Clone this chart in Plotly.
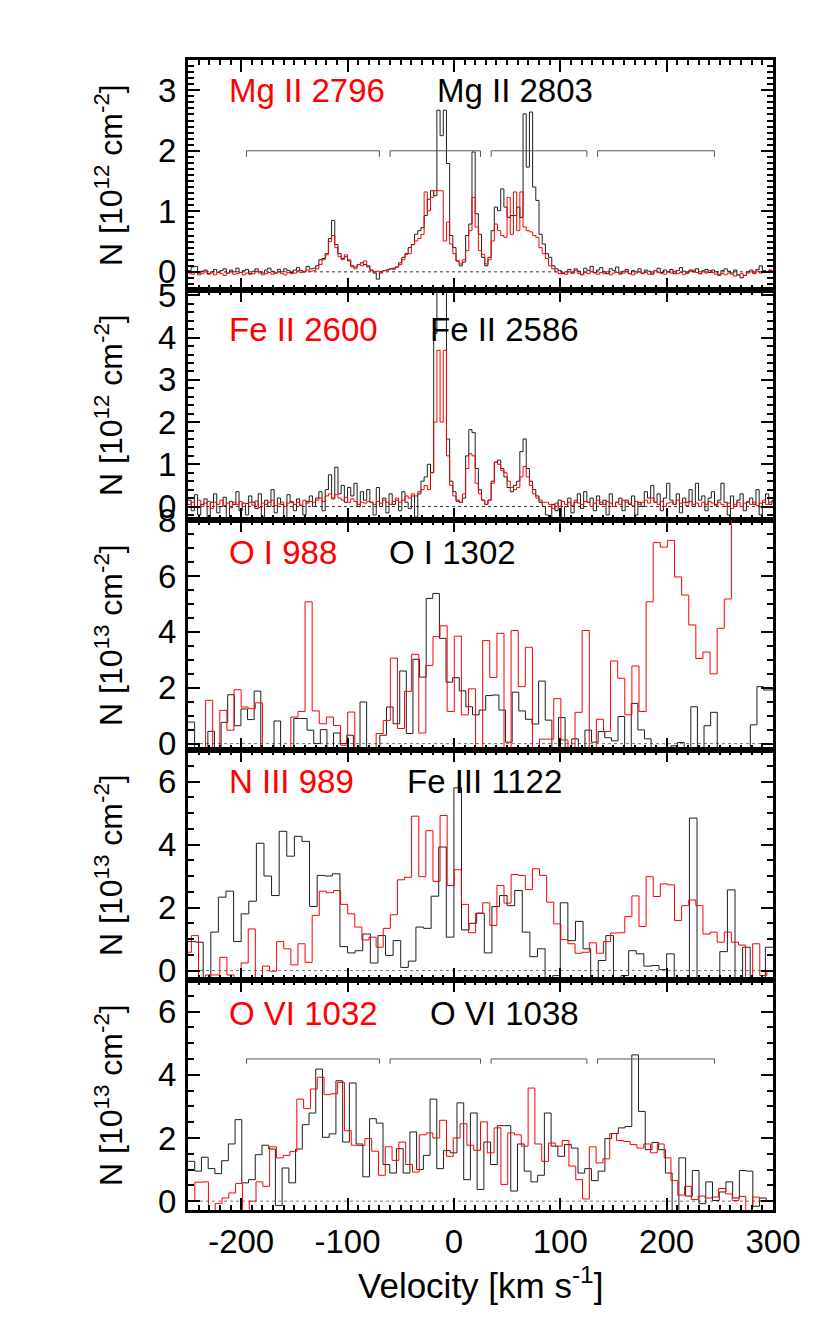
import plotly.graph_objects as go

FONT = "Liberation Sans, Arial, Helvetica, sans-serif"

# ---------------- Panel 1: Mg II (column density, 10^12 cm^-2), 3 km/s bins from -250
mg_start = -250.0
mg_width = 3.0
mg2803 = [0.02, 0.08, 0.09, -0.02, 0.01, 0.03, -0.03, 0.0, 0.04, -0.01,
          0.02, 0.05, -0.02, 0.03, 0.0, 0.06, -0.01, 0.02, 0.04, -0.03,
          0.01, 0.05, 0.0, -0.02, 0.03, 0.06, 0.01, -0.02, 0.04, 0.0,
          0.05, 0.02, -0.01, 0.03, 0.07, 0.02, 0.0, 0.09, 0.05, 0.06,
          0.1, 0.2, 0.22, 0.3, 0.55, 0.85, 0.45, 0.3, 0.22, 0.25,
          0.18, 0.1, 0.08, 0.12, 0.15, 0.12, 0.1,
          0.03, -0.02, -0.12, 0.0, 0.02, 0.03, 0.05, 0.06, 0.08, 0.15,
          0.24, 0.3, 0.4, 0.45, 0.62, 0.68, 0.73, 0.93, 1.2, 1.34,
          1.26,
          2.67, 2.25, 2.67, 1.79, 0.6, 0.4, 0.18, 0.1, 0.16, 0.6,
          0.79, 1.98, 0.96, 0.62, 0.24, 0.1, 0.24, 0.68, 1.07, 1.01,
          1.37, 1.07, 0.9, 0.93, 0.93, 1.07, 0.9, 2.61, 1.73, 2.64,
          1.4, 1.18, 0.62, 0.46, 0.3, 0.24, 0.1, 0.05,
          0.02, -0.03, 0.0, 0.04, -0.02, 0.05, 0.01, -0.04, 0.06, 0.02,
          0.09, -0.01, 0.03, 0.07, 0.0, -0.03, 0.05, 0.02, 0.08, -0.02,
          0.01, 0.04, -0.03, 0.02, 0.0, 0.05, -0.02, 0.03, 0.01, -0.04,
          0.02, 0.06, -0.01, 0.03, 0.0, 0.04, -0.03, 0.02, 0.07, 0.01,
          -0.02, 0.03, 0.0, 0.05, -0.03, 0.02, 0.04, -0.01, 0.03, 0.0,
          -0.04, 0.02, 0.05, 0.01, -0.02, 0.03, -0.05, -0.1, -0.06, 0.0,
          0.03, -0.02, 0.04, 0.1, 0.02, -0.01, 0.03, 0.0]
mg2796 = [-0.02, -0.04, -0.01, -0.05, -0.03, 0.0, -0.04, -0.02, -0.05, -0.01,
          -0.03, -0.06, -0.02, 0.0, -0.04, -0.03, -0.01, -0.05, -0.02, -0.04,
          -0.03, 0.01, -0.02, -0.05, -0.03, -0.01, -0.04, -0.02, 0.0, -0.03,
          -0.05, -0.01, -0.03, -0.02, 0.02, -0.01, 0.0, 0.03, 0.01, 0.02,
          0.05, 0.12, 0.2, 0.28, 0.5, 0.6, 0.4, 0.25, 0.2, 0.28,
          0.2, 0.08, 0.05, 0.12, 0.1, 0.18, 0.08,
          0.02, 0.0, 0.01, -0.02, 0.02, 0.03, 0.05, 0.04, 0.08, 0.12,
          0.2, 0.29, 0.3, 0.45, 0.51, 0.55, 0.62, 1.32, 1.01, 1.23,
          1.34,
          1.34, 1.34, 0.51, 0.82, 0.46, 0.3, 0.18, 0.13, 0.2, 0.35,
          0.68, 1.23, 0.74, 0.35, 0.29, 0.13, 0.2, 0.51, 0.79, 0.68,
          0.6, 0.57, 1.23, 0.62, 1.32, 0.68, 1.32, 0.74, 0.68, 0.66,
          0.6, 0.57, 0.4, 0.3, 0.22, 0.1, 0.05, 0.0,
          -0.03, -0.01, -0.04, 0.0, -0.02, 0.02, -0.03, -0.05, -0.01, -0.03,
          0.01, -0.02, -0.04, -0.01, -0.03, 0.0, -0.05, -0.02, -0.01, -0.04,
          -0.02, 0.01, -0.03, -0.05, -0.02, 0.0, -0.03, -0.01, -0.04, -0.02,
          0.02, -0.01, -0.03, -0.04, 0.0, -0.02, 0.01, -0.03, -0.01, -0.04,
          -0.02, 0.01, 0.03, -0.01, -0.03, 0.0, -0.02, 0.02, -0.01, -0.04,
          -0.06, -0.03, -0.05, -0.02, -0.04, -0.07, -0.05, -0.03, -0.06, -0.02,
          0.0, -0.03, 0.01, -0.02, 0.0, -0.01, 0.02, -0.01]

# ---------------- Panel 2: Fe II (10^12 cm^-2), 3 km/s bins from -250
fe_start = -250.0
fe_width = 3.0
fe2586 = [0.15, -0.1, 0.28, -0.2, 0.05, 0.18, -0.25, 0.1, 0.3, -0.15,
          0.0, 0.22, -0.3, 0.12, 0.05, 0.35, -0.1, 0.08, -0.2, 0.25,
          0.1, -0.05, 0.3, -0.25, 0.15, 0.0, 0.4, -0.15, 0.2, 0.05,
          -0.3, 0.28, 0.1, -0.1, 0.18, 0.02, -0.2, 0.12, 0.25, 0.0,
          0.2, 0.35, -0.1, 0.4, 0.75, 0.2, 0.93, 0.3, 0.5, 0.1,
          0.45, 0.25, 0.55, 0.0, 0.35, 0.15, 0.4,
          0.1, -0.2, 0.45, 0.0, 0.2, -0.15, 0.3, 0.05, 0.15, -0.1,
          0.35, 0.1, -0.05, 0.25, -0.25, 0.3, 0.6,
          0.7, 1.0, 0.8, 4.1, 5.5, 5.5, 5.5, 1.6, 0.6, 0.35,
          0.15, 0.1, 0.2, 1.2, 1.82, 1.75, 0.9, 0.4, 0.15, 0.05,
          0.15, 0.6, 1.05, 1.1, 0.9, 0.7, 0.45, 0.35, 0.5, 0.6,
          1.3, 1.6, 0.9, 0.6, 0.4, 0.25, 0.1, 0.0,
          -0.2, -0.3, 0.05, -0.1, 0.15, -0.3, 0.0, 0.2, -0.15, 0.1,
          0.3, -0.05, 0.35, 0.1, 0.2, -0.1, 0.25, 0.05, 0.15, -0.2,
          0.3, 0.0, 0.1, 0.2, -0.1, 0.15, 0.05, 0.25, -0.2, 0.1,
          0.0, 0.35, 0.2, 0.5, 0.1, 0.3, -0.1, 0.2, 0.55, 0.15,
          0.05, 0.3, -0.15, 0.2, 0.1, 0.4, 0.0, 0.55, 0.15, 0.25,
          -0.1, 0.2, 0.35, 0.05, 0.15, 0.55, 0.1, -0.2, 0.25, 0.0,
          0.15, 0.3, -0.1, 0.1, 0.2, 0.05, 0.4, -0.2, 0.1, 0.3,
          0.05, 0.15]
fe2600 = [0.05, 0.1, -0.02, 0.15, 0.0, 0.08, 0.12, -0.05, 0.1, 0.05,
          0.15, 0.02, 0.08, -0.03, 0.1, 0.05, 0.12, 0.0, 0.07, 0.1,
          0.03, 0.13, -0.02, 0.08, 0.05, 0.1, 0.15, 0.02, 0.06, 0.1,
          0.0, 0.08, 0.12, 0.05, 0.1, 0.03, 0.15, 0.08, 0.12, 0.1,
          0.15, 0.2, 0.12, 0.25, 0.3, 0.18, 0.28, 0.2, 0.15, 0.22,
          0.1, 0.18, 0.12, 0.05, 0.1, 0.08, 0.12,
          0.1, 0.05, 0.12, 0.08, 0.15, 0.1, 0.05, 0.12, 0.2, 0.1,
          0.15, 0.25, 0.2, 0.3, 0.25, 0.35, 0.4,
          0.5, 0.4, 0.8, 2.0, 3.7, 2.0, 3.7, 1.2, 0.5, 0.25,
          0.12, 0.1, 0.3, 0.9, 1.25, 1.2, 0.55, 0.3, 0.15, 0.05,
          0.15, 0.55, 1.05, 1.0, 0.85, 0.8, 0.6, 0.45, 0.4, 0.45,
          0.7, 0.95, 0.7, 0.5, 0.3, 0.2, 0.15, 0.1,
          0.1, 0.05, -0.05, 0.08, 0.0, 0.12, 0.05, 0.1, 0.02, 0.15,
          0.08, 0.05, 0.12, 0.1, 0.0, 0.08, 0.15, 0.1, 0.05, 0.12,
          0.08, 0.0, 0.1, 0.05, 0.15, 0.1, 0.08, 0.02, 0.12, 0.05,
          0.1, 0.15, 0.08, 0.2, 0.1, 0.05, 0.12, 0.0, 0.08, 0.1,
          0.05, 0.15, 0.08, 0.1, 0.02, 0.12, 0.05, 0.08, 0.0, 0.1,
          0.05, 0.12, 0.08, 0.02, 0.1, 0.05, 0.0, 0.08, -0.05, 0.05,
          0.1, 0.0, 0.08, 0.12, 0.05, 0.1, 0.02, 0.08, 0.15, 0.05,
          0.1, 0.12]

# ---------------- Panel 3: O I (10^13 cm^-2)
oi988_start = -253.5
oi988_width = 6.68
oi988 = [-0.5, -0.5, -0.5, 1.55, -0.5, 1.19, 0.48, 1.93, 1.31, 1.25,
         1.46, -0.5, -0.5, -0.5, -0.5, 0.95, 1.15, 5.08, 1.17, 0.71,
         0.95, 0.65, -0.06, 1.13, -0.5, -0.5, -0.5, 0.36, 0.83, 3.06,
         0.54, 1.87, 3.2, 0.38, 2.8, 3.83, 4.22, 1.15, 3.85, 1.03,
         1.96, -0.5, 3.69, 2.37, 3.95, -0.5, 4.05, 2.04, 3.45, -0.5,
         0.16, 0.16, 1.61, 0.13, -0.5, 1.12, 4.05, -0.5, 0.87, 0.43,
         2.96, 2.34, 1.03, 2.78, 1.15, 5.08, 7.2, 7.04, 7.28, 5.97,
         5.32, 4.25, 3.05, 3.28, 2.5, 4.13, 5.18, 9.0, 9.0, 9.0,
         9.0, 9.0, 9.0]
oi1302_start = -250.0
oi1302_width = 6.22
oi1302 = [0.77, -0.5, -0.5, 0.44, -0.5, 0.76, 1.75, 0.64, 1.24, 0.86,
          1.88, -0.5, -0.5, 0.81, -0.5, -0.5, 0.9, 0.9, 0.48, 0.0,
          0.5, -0.5, 0.38, 0.0, 0.3, -0.5, 1.49, -0.5, -0.5, 0.3,
          1.31, 0.71, 2.6, 0.36, 3.02, 2.38, 5.2, 5.38, 3.77, 2.2,
          2.36, 1.89, 1.32, 1.03, 1.2, 1.72, 1.74, 1.2, 0.05, 1.84,
          1.17, 0.87, 0.7, 2.24, 0.84, -0.5, 0.93, -0.5, 0.17, -0.5,
          0.48, 0.05, 0.43, 0.21, 0.1, 0.97, -0.17, 1.44, 0.49, 0.17,
          -0.5, -0.5, -0.5, -0.08, 0.04, -0.5, 1.32, -0.5, 0.64, 1.12,
          -0.5, -0.5, -0.5, -0.5, -0.5, 0.67, 2.04, 1.92, 1.92]

# ---------------- Panel 4: N III 989 and Fe III 1122 (10^13 cm^-2)
niii989_start = -253.5
niii989_width = 6.68
niii989 = [0.58, 1.11, -0.5, -0.14, -0.14, 0.42, -0.14, -0.5, 0.24, 1.32,
           -0.5, 0.14, -0.02, 0.92, 0.69, 0.18, 0.85, 0.26, 1.75, 2.52,
           2.47, 2.54, 2.1, 1.8, 1.38, 0.97, 1.06, 0.74, 1.34, 1.77,
           2.88, 2.96, 4.9, 2.98, 4.44, 2.83, 4.92, 2.7, 3.2, 2.1,
           1.2, 1.82, 2.15, 1.43, 2.7, 2.14, 3.05, 3.02, 2.57, 3.23,
           3.02, 2.17, 1.48, 0.98, 0.85, 0.55, 0.58, 0.88, 0.55, 0.92,
           1.19, 1.2, 1.71, 2.37, 1.4, 2.98, 2.35, 2.75, 2.72, 1.59,
           2.06, 2.24, 2.06, 1.16, 1.22, 0.9, 1.22, 0.9, 0.81, -0.5,
           0.85, -0.16, 0.0]
feiii1122_start = -250.0
feiii1122_width = 550.0 / 77
feiii1122 = [0.92, 0.9, -0.5, 1.22, 2.33, 2.52, 0.92, 1.8, 2.2, 4.04,
             3.0, 2.38, 4.42, 3.63, 4.26, 4.1, 2.03, 3.02, 3.0, 3.07,
             0.76, 0.56, 0.63, 1.16, 0.24, 1.11, 0.48, 0.95, 0.1, 0.3,
             1.38, 1.34, 2.36, 3.92, 1.06, 5.8, 1.29, 1.5, 1.82, 0.56,
             2.03, 2.38, 2.06, 2.54, 1.22, 0.44, 0.69, -0.5, -0.16, 2.15,
             0.95, 1.56, 0.69, -0.5, 0.32, 1.11, -0.5, -0.16, 0.63, 0.53,
             0.14, 0.16, 0.03, 0.53, -0.5, -0.5, 4.84, -0.5, -0.5, -0.24,
             0.6, 2.56, -0.5, 0.74, -0.5, -0.26, 0.74]

# ---------------- Panel 5: O VI (10^13 cm^-2)
ovi1032_start = -250.0
ovi1032_width = 550.0 / 86
ovi1032 = [0.02, 0.6, 0.61, -0.5, -0.07, 0.1, 0.26, 0.56, -0.5, 0.0,
           0.61, 0.47, 1.72, 1.37, 1.45, 1.57, 3.23, 2.93, 3.55, 3.92,
           3.37, 3.4, 3.76, 2.23, 1.77, 1.76, 1.98, 1.58, 0.82, 1.72,
           1.29, 1.87, 1.16, 0.92, 2.1, 2.16, 2.0, 2.56, 1.42, 2.0,
           2.45, 1.77, 1.61, 2.51, 1.53, 2.32, 0.53, 2.16, 2.1, 1.74,
           3.58, 1.81, 1.26, 1.84, 1.74, 1.92, 1.11, 0.68, 0.07, 1.72,
           1.21, 1.34, 2.14, 1.92, 1.89, 1.79, 1.68, 1.81, 1.53, 1.81,
           1.37, 0.65, 0.19, 0.47, 0.05, 0.16, 0.1, 0.13, 0.4, 0.23,
           0.02, 0.15, -0.5, 0.13, 0.02, 0.0]
ovi1038_start = -250.0
ovi1038_width = 550.0 / 87
ovi1038 = [1.26, 0.95, 1.39, 1.03, 0.87, 1.28, 1.81, 2.58, 0.58, 0.68,
           1.47, 1.77, 1.65, -0.14, 1.05, 0.58, 1.65, 2.42, 2.79, 4.18,
           2.02, 2.13, 3.81, 1.87, 3.74, 1.81, 0.77, 2.61, 2.47, 1.16,
           0.89, 1.66, 0.89, 2.19, 1.0, 1.45, 3.23, 1.03, 1.6, 1.53,
           3.11, 0.68, 2.79, 0.37, 1.87, 1.16, 2.39, 2.39, 0.32, 1.81,
           0.95, 0.61, 0.82, 2.79, 1.74, 1.42, 1.79, 1.68, 0.89, 1.03,
           0.65, 0.95, 1.98, 2.14, 2.32, 2.36, 4.63, 2.84, 1.63, 1.86,
           1.63, 0.89, -0.5, 1.37, 0.16, 0.97, -0.08, 0.61, 0.02, 0.29,
           0.61, 0.1, 0.97, 0.95, -0.16, 0.1, 0.0]

# velocity components marked by brackets (km/s)
components = [(-195, -70), (-60, 25), (35, 125), (135, 245)]

panel_labels_red = ["Mg II 2796", "Fe II 2600", "O I 988", "N III 989", "O VI 1032"]
panel_labels_black = ["Mg II 2803", "Fe II 2586", "O I 1302", "Fe III 1122", "O VI 1038"]
panel_exponents = ["12", "12", "13", "13", "13"]
x_ticks = [-200, -100, 0, 100, 200, 300]


def steps(start, width, vals):
    xs = [start + width * i for i in range(len(vals) + 1)]
    ys = list(vals) + [vals[-1]]
    return xs, ys


series = [
    ((mg_start, mg_width, mg2803), (mg_start, mg_width, mg2796)),
    ((fe_start, fe_width, fe2586), (fe_start, fe_width, fe2600)),
    ((oi1302_start, oi1302_width, oi1302), (oi988_start, oi988_width, oi988)),
    ((feiii1122_start, feiii1122_width, feiii1122), (niii989_start, niii989_width, niii989)),
    ((ovi1038_start, ovi1038_width, ovi1038), (ovi1032_start, ovi1032_width, ovi1032)),
]

yconf = [
    dict(range=[-0.3, 3.5], dtick=1, minor=0.1, label_y=3.0, black_x=-17.8, bracket=(2.0, 0.1)),
    dict(range=[-0.32, 5.13], dtick=1, minor=0.2, label_y=4.2, black_x=-24.4, bracket=None),
    dict(range=[-0.23, 8.01], dtick=2, minor=0.5, label_y=6.85, black_x=-62.9, bracket=None),
    dict(range=[-0.3, 7.0], dtick=2, minor=0.5, label_y=6.0, black_x=-46.0, bracket=None),
    dict(range=[-0.28, 7.0], dtick=2, minor=0.5, label_y=5.95, black_x=-24.4, bracket=(4.5, 0.15)),
]

fig = go.Figure()
annotations = []
shapes = []
W, H = 830, 1329
ml, mr, mt, mb = 180, 65, 52, 127
plot_w = W - ml - mr
plot_h = H - mt - mb

for i in range(5):
    n = i + 1
    xa = "x" if n == 1 else f"x{n}"
    ya = "y" if n == 1 else f"y{n}"
    (bs, bw, bv), (rs, rw, rv) = series[i]
    bx, by = steps(bs, bw, bv)
    rx, ry = steps(rs, rw, rv)
    fig.add_trace(go.Scatter(x=bx, y=by, mode="lines", line=dict(color="#1e1e1e", width=1, shape="hv"),
                             xaxis=xa, yaxis=ya, showlegend=False, hoverinfo="skip"))
    fig.add_trace(go.Scatter(x=rx, y=ry, mode="lines", line=dict(color="#ff0000", width=1, shape="hv"),
                             xaxis=xa, yaxis=ya, showlegend=False, hoverinfo="skip"))
    c = yconf[i]
    if c["bracket"] is not None:
        lvl, drop = c["bracket"]
        bxs, bys = [], []
        for a, b in components:
            bxs += [a, a, b, b, None]
            bys += [lvl - drop, lvl, lvl, lvl - drop, None]
        fig.add_trace(go.Scatter(x=bxs, y=bys, mode="lines", line=dict(color="#555555", width=1),
                                 xaxis=xa, yaxis=ya, showlegend=False, hoverinfo="skip"))
    # zero line
    shapes.append(dict(type="line", xref=f"{xa} domain", yref=ya, x0=0, x1=1, y0=0, y1=0,
                       line=dict(color="#333333" if i < 2 else "#777777", width=1, dash="3px,3px"),
                       layer="below"))
    top = 1 - i / 5
    bot = 1 - (i + 1) / 5
    axis_common = dict(showline=True, linecolor="black", linewidth=3, mirror="ticks",
                       ticks="inside", tickcolor="black", tickwidth=2, ticklen=12,
                       showgrid=False, zeroline=False,
                       tickfont=dict(family=FONT, size=33, color="black"))
    fig.layout["xaxis" if n == 1 else f"xaxis{n}"] = dict(
        axis_common, domain=[0, 1], anchor=ya, range=[-250, 300],
        tickmode="array", tickvals=x_ticks, ticktext=[str(t) for t in x_ticks],
        minor=dict(ticks="inside", dtick=10, tick0=0, ticklen=5, tickwidth=1.5, tickcolor="black"),
        showticklabels=(n == 5), ticklabelstandoff=0)
    fig.layout["yaxis" if n == 1 else f"yaxis{n}"] = dict(
        axis_common, domain=[bot, top], anchor=xa, range=c["range"],
        dtick=c["dtick"], tick0=0,
        minor=dict(ticks="inside", dtick=c["minor"], tick0=0, ticklen=6, tickwidth=1.5, tickcolor="black"),
        ticklabelstandoff=2)
    annotations.append(dict(text=panel_labels_red[i], xref=xa, yref=ya, x=-213.3, y=c["label_y"],
                            xanchor="left", yanchor="middle", showarrow=False,
                            font=dict(family=FONT, size=33, color="#ff0000")))
    annotations.append(dict(text=panel_labels_black[i], xref=xa, yref=ya, x=c["black_x"], y=c["label_y"],
                            xanchor="left", yanchor="middle", showarrow=False,
                            font=dict(family=FONT, size=33, color="black")))
    annotations.append(dict(text=f"N [10<sup>{panel_exponents[i]}</sup> cm<sup>-2</sup>]",
                            xref="paper", yref="paper", x=(101 - ml) / plot_w, y=(top + bot) / 2,
                            xanchor="center", yanchor="middle", textangle=-90, showarrow=False,
                            font=dict(family=FONT, size=32, color="black")))

annotations.append(dict(text="Velocity [km s<sup>-1</sup>]", xref="paper", yref="paper",
                        x=0.5, y=(H - mb - 1275) / plot_h, xanchor="center", yanchor="middle",
                        showarrow=False, font=dict(family=FONT, size=35, color="black")))

fig.update_layout(width=W, height=H, margin=dict(l=ml, r=mr, t=mt, b=mb),
                  plot_bgcolor="white", paper_bgcolor="white",
                  annotations=annotations, shapes=shapes, showlegend=False)

fig.write_html("out.html")
